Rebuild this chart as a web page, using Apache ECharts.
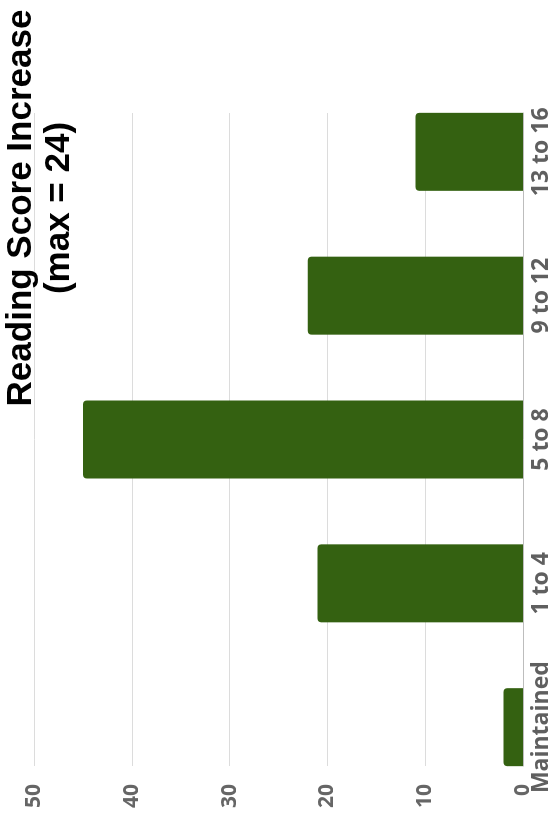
<!DOCTYPE html>
<html>
<head>
<meta charset="utf-8">
<script src="https://cdn.jsdelivr.net/npm/echarts@6/dist/echarts.min.js"></script>
<style>
  html, body { margin: 0; padding: 0; background: #fff; overflow: hidden; }
  #frame { position: relative; width: 553px; height: 833px; overflow: hidden; }
  /* the chart is laid out landscape and turned a quarter-turn counter-clockwise */
  #chart {
    position: absolute; left: 0; top: 0;
    width: 833px; height: 553px;
    transform-origin: 0 0;
    transform: translateY(833px) rotate(-90deg);
  }
</style>
</head>
<body>
<div id="frame"><div id="chart"></div></div>
<script>
// score-increase bands and share of students in each (%)
const categories = ['Maintained', '1 to 4', '5 to 8', '9 to 12', '13 to 16'];
const shareValues = [2, 21, 45, 22, 11];
const categoryTicks = [0, 1, 2, 3, 4];
const valueMin = 0;
const valueMax = 50;
const valueStep = 10;

const chart = echarts.init(document.getElementById('chart'), null, { renderer: 'canvas' });

chart.setOption({
  animation: false,
  backgroundColor: '#ffffff',
  title: {
    text: 'Reading Score Increase\n(max = 24)',
    left: 625,
    top: 2,
    padding: 0,
    textAlign: 'center',
    textStyle: {
      fontFamily: 'Liberation Sans',
      fontSize: 35,
      fontWeight: 'bold',
      color: '#000000',
      lineHeight: 38
    }
  },
  grid: {
    left: 67,
    right: 113,
    top: 34,
    bottom: 30,
    containLabel: false,
    outerBoundsMode: 'none'
  },
  xAxis: {
    type: 'value',
    min: -0.27,
    max: 4.27,
    splitLine: { show: false },
    axisLine: { show: true, onZero: true, lineStyle: { color: '#bdbdbd', width: 1 } },
    axisTick: { show: false },
    axisLabel: {
      customValues: categoryTicks,
      formatter: function (v) { return categories[Math.round(v)]; },
      fontFamily: 'Open Sans',
      fontSize: 23,
      fontWeight: 'bold',
      color: '#5f5f5f',
      margin: 7
    }
  },
  yAxis: {
    type: 'value',
    min: valueMin,
    max: valueMax,
    interval: valueStep,
    axisLine: { show: false },
    axisTick: { show: false },
    splitLine: { show: true, lineStyle: { color: '#dcdcdc', width: 1 } },
    axisLabel: {
      fontFamily: 'Open Sans',
      fontSize: 21,
      fontWeight: 'bold',
      color: '#666666',
      margin: 18
    }
  },
  series: [{
    type: 'bar',
    data: categories.map(function (c, i) { return [i, shareValues[i]]; }),
    barWidth: 78,
    itemStyle: {
      color: '#346111',
      borderRadius: [4, 4, 0, 0]
    }
  }]
});
</script>
</body>
</html>
